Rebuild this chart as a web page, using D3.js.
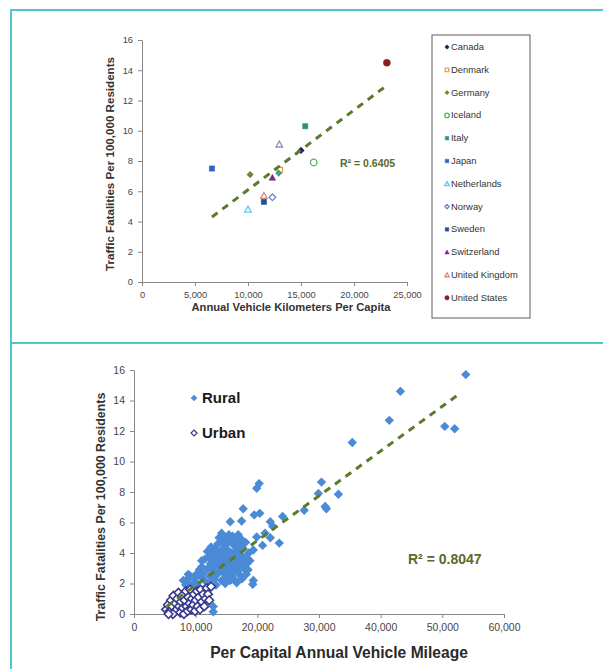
<!DOCTYPE html>
<html>
<head>
<meta charset="utf-8">
<script src="https://cdn.jsdelivr.net/npm/d3@7"></script>
<style>
  body { margin: 0; background: #fff; }
  svg { display: block; font-family: "Liberation Sans", Arial, sans-serif; }
  .axis path, .axis line { stroke: #888; }
  .axis text { fill: #4a4545; }
</style>
</head>
<body>
<svg id="chart" width="603" height="669"></svg>
<script>
// ---- top chart: countries ----
const countries = ["Canada", "Denmark", "Germany", "Iceland", "Italy", "Japan",
  "Netherlands", "Norway", "Sweden", "Switzerland", "United Kingdom", "United States"];
const countryKm = [15000, 13000, 10200, 16200, 15400, 6600, 10000, 12300, 11500, 12300, 11500, 23100];
const countryFatal = [8.7, 7.4, 7.1, 7.9, 10.3, 7.5, 4.8, 5.6, 5.3, 6.9, 5.7, 14.5];
const countryShape = ["diamond", "square-open", "diamond", "circle-open", "square", "square",
  "triangle-open", "diamond-open", "square", "triangle", "triangle-open", "circle"];
const countryColor = ["#1e1e5e", "#f39a45", "#7d7d3c", "#5cb05c", "#2f9474", "#3462c4",
  "#62c8f0", "#6d88c8", "#21509e", "#782a8c", "#d48c7c", "#8b1e1e"];
// two unlabelled marks in the original
const extraKm = [12900, 12950];
const extraFatal = [7.2, 9.1];
const extraShape = ["diamond", "triangle-open"];
const extraColor = ["#3aa08a", "#8a8fb8"];

const topXTicks = [0, 5000, 10000, 15000, 20000, 25000];
const topYTicks = [0, 2, 4, 6, 8, 10, 12, 14, 16];
const topTrendX = [6600, 23100];
const topTrendY = [4.3, 13.0];
const topR2 = "R² = 0.6405";

// ---- bottom chart: rural / urban ----
const ruralPts = [
  [53800, 15.7], [43200, 14.6], [41400, 12.7], [50400, 12.3], [52000, 12.15], [35400, 11.25],
  [20300, 8.55], [19900, 8.25], [30400, 8.65], [29900, 7.9], [33150, 7.85], [31000, 7.05], [31200, 6.9],
  [17700, 6.9], [19500, 6.5], [20400, 6.6], [24100, 6.4], [27600, 6.8], [15600, 6.05], [17450, 6.1],
  [22100, 6.05], [22500, 5.75], [21250, 5.3], [22100, 5.0], [23550, 4.65], [19900, 5.05], [20850, 4.5],
  [19350, 4.2], [19350, 2.2], [19250, 1.95], [16650, 2.05], [12850, 0.5], [12850, 0.15],
  [8800, 2.6], [8550, 2.25],
  [8000, 2.2], [8400, 1.9], [8900, 2.0], [9100, 2.5], [9600, 1.8], [9700, 2.3], [10100, 2.6],
  [10200, 2.0], [10600, 2.9], [10900, 2.4], [10400, 1.7], [11000, 3.1], [11300, 2.7], [11500, 2.2],
  [11500, 3.6], [11800, 1.8], [10980, 3.5],
  [12000, 3.0], [12100, 3.7], [12300, 2.5], [12400, 3.3], [12600, 4.0], [12700, 2.9], [12900, 3.6],
  [13000, 2.3], [13100, 4.3], [13200, 3.1], [13400, 3.9], [13500, 2.6], [13600, 4.6], [13700, 3.4],
  [13900, 2.9], [14000, 4.1], [14100, 3.7], [14200, 2.2], [14300, 4.8], [14400, 3.2], [14500, 2.7],
  [14600, 4.4], [14700, 3.9], [14800, 3.5], [14900, 5.0], [15000, 2.4], [15000, 4.6], [15100, 3.0],
  [15200, 4.2], [15300, 3.7], [15400, 5.2], [15500, 2.8], [15600, 4.8], [15700, 3.4], [15800, 4.0],
  [15900, 2.5], [16000, 5.1], [16100, 3.1], [16200, 4.5], [16300, 3.8], [16400, 2.2], [16500, 4.9],
  [16600, 3.5], [16700, 4.2], [16800, 2.8], [16900, 5.2], [17000, 3.2], [17100, 4.6], [17200, 3.9],
  [17300, 2.5], [17400, 4.9], [17500, 3.5], [17700, 4.3], [17800, 3.0], [18000, 3.7], [18100, 4.7],
  [18300, 3.3], [18500, 2.9], [18600, 4.0], [18800, 3.5], [17500, 2.3], [18200, 2.6], [14200, 5.3],
  [13800, 5.0], [12500, 4.4], [11900, 4.1], [12200, 2.0], [13300, 1.9], [14800, 2.0], [15600, 2.2],
  [16800, 3.7], [15400, 3.3], [14000, 3.5], [13100, 2.8], [16200, 2.7], [17900, 3.4]
];
const urbanPts = [
  [5200, 0.3], [5500, 0.6], [5800, 0.2], [6000, 0.9], [6200, 0.5], [6400, 1.2], [6500, 0.1],
  [6700, 0.7], [6900, 0.3], [7000, 1.0], [7200, 1.4], [7300, 0.5], [7500, 0.1], [7600, 0.8],
  [7800, 1.2], [7900, 0.4], [8100, 0.0], [8200, 0.9], [8400, 1.5], [8500, 0.5], [8700, 0.2],
  [8800, 1.1], [9000, 0.7], [9100, 1.6], [9300, 0.3], [9400, 1.0], [9600, 0.6], [9700, 1.3],
  [9900, 0.2], [10000, 0.9], [10200, 1.5], [10300, 0.5], [10500, 1.1], [10700, 0.3], [10800, 1.6],
  [11000, 0.8], [11200, 1.3], [11400, 0.5], [11600, 1.0], [11800, 1.7], [12000, 1.3], [12200, 0.9],
  [12500, 1.8], [6300, 0.0], [5600, 0.0]
];
const botXTicks = [0, 10000, 20000, 30000, 40000, 50000, 60000];
const botYTicks = [0, 2, 4, 6, 8, 10, 12, 14, 16];
const botTrendX = [5300, 53000];
const botTrendY = [0.5, 14.5];
const botR2 = "R² = 0.8047";

const svg = d3.select("#chart");
const trendColor = "#5b7a2c";

// marker path, centred on 0,0
function marker(shape, r) {
  let s = shape.replace("-open", "");
  if (s == "diamond") return `M0,${-r}L${r},0L0,${r}L${-r},0Z`;
  if (s == "square") return `M${-r * 0.8},${-r * 0.8}h${r * 1.6}v${r * 1.6}h${-r * 1.6}Z`;
  if (s == "triangle") return `M0,${-r}L${r},${r * 0.8}L${-r},${r * 0.8}Z`;
  return d3.symbol(d3.symbolCircle, Math.PI * r * r)();
}
function drawMarker(g, shape, color, x, y, r) {
  let open = shape.endsWith("-open");
  g.append("path")
    .attr("d", marker(shape, r))
    .attr("transform", `translate(${x},${y})`)
    .attr("fill", open ? "#fff" : color)
    .attr("stroke", color)
    .attr("stroke-width", open ? 1.3 : 0.5);
}

// frame lines
svg.append("path")
  .attr("d", "M11,669V10H603M11,343H603")
  .attr("fill", "none")
  .attr("stroke", "#4ec6ca")
  .attr("stroke-width", 2);

// ================= top chart =================
let gTop = svg.append("g");
let x1 = d3.scaleLinear().domain([0, 25000]).range([142, 407]);
let y1 = d3.scaleLinear().domain([0, 16]).range([282, 40]);

gTop.append("g")
  .attr("class", "axis")
  .attr("transform", `translate(0,${y1(0)})`)
  .call(d3.axisBottom(x1).tickValues(topXTicks).tickFormat(d3.format(",")).tickSize(4).tickSizeOuter(0).tickPadding(5))
  .style("font-size", "9.3px");

gTop.append("g")
  .attr("class", "axis")
  .attr("transform", `translate(${x1(0)},0)`)
  .call(d3.axisLeft(y1).tickValues(topYTicks).tickSize(4).tickSizeOuter(0).tickPadding(5))
  .style("font-size", "9.3px");

gTop.selectAll(".axis text").style("font-family", "Liberation Sans, Arial, sans-serif");

gTop.append("text")
  .attr("transform", `translate(114,164) rotate(-90)`)
  .attr("text-anchor", "middle")
  .style("font-size", "11.6px")
  .style("font-weight", "bold")
  .attr("fill", "#333")
  .text("Traffic Fatalities Per 100,000 Residents");

gTop.append("text")
  .attr("x", 291)
  .attr("y", 311)
  .attr("text-anchor", "middle")
  .style("font-size", "11.2px")
  .style("font-weight", "bold")
  .attr("fill", "#333")
  .text("Annual Vehicle Kilometers Per Capita");

countries.forEach((c, i) => {
  let r = (countryShape[i] == "circle") ? 3.5 : 3.3;
  drawMarker(gTop, countryShape[i], countryColor[i], x1(countryKm[i]), y1(countryFatal[i]), r);
});
extraKm.forEach((k, i) => {
  drawMarker(gTop, extraShape[i], extraColor[i], x1(k), y1(extraFatal[i]), 3.3);
});

gTop.append("line")
  .attr("x1", x1(topTrendX[0])).attr("y1", y1(topTrendY[0]))
  .attr("x2", x1(topTrendX[1])).attr("y2", y1(topTrendY[1]))
  .attr("stroke", trendColor)
  .attr("stroke-width", 3)
  .attr("stroke-dasharray", "7,6");

gTop.append("text")
  .attr("x", 340)
  .attr("y", 167)
  .style("font-size", "10.5px")
  .style("font-weight", "bold")
  .attr("fill", "#5a6a2c")
  .text(topR2);

// legend
let leg = gTop.append("g");
leg.append("rect")
  .attr("x", 432).attr("y", 35).attr("width", 98).attr("height", 283)
  .attr("fill", "#fff").attr("stroke", "#777").attr("stroke-width", 1.2);
countries.forEach((c, i) => {
  let ly = 47 + i * 22.8;
  drawMarker(leg, countryShape[i], countryColor[i], 447, ly, 2.2);
  leg.append("text")
    .attr("x", 451)
    .attr("y", ly + 3)
    .style("font-size", "9.4px")
    .attr("fill", "#333")
    .text(c);
});

// ================= bottom chart =================
let gBot = svg.append("g");
let x2 = d3.scaleLinear().domain([0, 60000]).range([134, 504]);
let y2 = d3.scaleLinear().domain([0, 16]).range([614, 370]);

gBot.append("g")
  .attr("class", "axis")
  .attr("transform", `translate(0,${y2(0)})`)
  .call(d3.axisBottom(x2).tickValues(botXTicks).tickFormat(d3.format(",")).tickSize(4).tickSizeOuter(0).tickPadding(6))
  .style("font-size", "10.5px");

gBot.append("g")
  .attr("class", "axis")
  .attr("transform", `translate(${x2(0)},0)`)
  .call(d3.axisLeft(y2).tickValues(botYTicks).tickSize(4).tickSizeOuter(0).tickPadding(5))
  .style("font-size", "10.5px");

gBot.selectAll(".axis text").style("font-family", "Liberation Sans, Arial, sans-serif");

gBot.append("text")
  .attr("transform", `translate(105,507) rotate(-90)`)
  .attr("text-anchor", "middle")
  .style("font-size", "12.4px")
  .style("font-weight", "bold")
  .attr("fill", "#333")
  .text("Traffic Fatalities Per 100,000 Residents");

gBot.append("text")
  .attr("x", 339)
  .attr("y", 658)
  .attr("text-anchor", "middle")
  .style("font-size", "15.6px")
  .style("font-weight", "bold")
  .attr("fill", "#2a2a2a")
  .text("Per Capital Annual Vehicle Mileage");

gBot.selectAll(".rural")
  .data(ruralPts)
  .join("path")
  .attr("class", "rural")
  .attr("d", marker("diamond", 4.7))
  .attr("transform", d => `translate(${x2(d[0])},${y2(d[1])})`)
  .attr("fill", "#4a8ad6");

gBot.selectAll(".urban")
  .data(urbanPts)
  .join("path")
  .attr("class", "urban")
  .attr("d", marker("diamond", 4.3))
  .attr("transform", d => `translate(${x2(d[0])},${y2(d[1])})`)
  .attr("fill", "#fff")
  .attr("stroke", "#38388e")
  .attr("stroke-width", 1.6);

gBot.append("line")
  .attr("x1", x2(botTrendX[0])).attr("y1", y2(botTrendY[0]))
  .attr("x2", x2(botTrendX[1])).attr("y2", y2(botTrendY[1]))
  .attr("stroke", trendColor)
  .attr("stroke-width", 3)
  .attr("stroke-dasharray", "7,6");

gBot.append("text")
  .attr("x", 408)
  .attr("y", 564)
  .style("font-size", "14px")
  .style("font-weight", "bold")
  .attr("fill", "#5a6a2c")
  .text(botR2);

// rural / urban legend
let leg2 = gBot.append("g");
leg2.append("path")
  .attr("d", marker("diamond", 3.3))
  .attr("transform", "translate(194,398)")
  .attr("fill", "#4a8ad6");
leg2.append("text")
  .attr("x", 202).attr("y", 403)
  .style("font-size", "15px").style("font-weight", "bold")
  .attr("fill", "#1a1a1a")
  .text("Rural");
leg2.append("path")
  .attr("d", marker("diamond", 3))
  .attr("transform", "translate(194,433)")
  .attr("fill", "#fff").attr("stroke", "#38388e").attr("stroke-width", 1.2);
leg2.append("text")
  .attr("x", 202).attr("y", 438)
  .style("font-size", "15px").style("font-weight", "bold")
  .attr("fill", "#1a1a1a")
  .text("Urban");
</script>
</body>
</html>
